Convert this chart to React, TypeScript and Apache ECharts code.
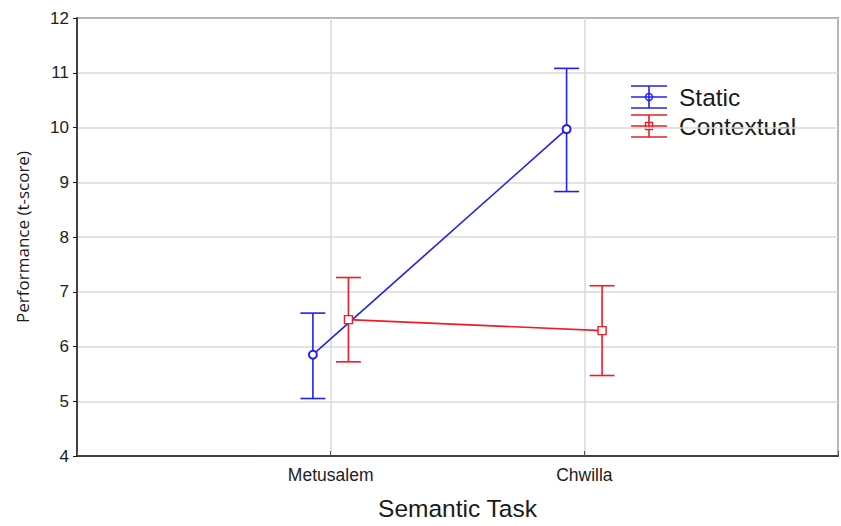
import React, { useEffect, useRef } from "react";
import * as echarts from "echarts";

const categories = ["Metusalem", "Chwilla"];
const seriesNames = ["Static", "Contextual"];
const staticMean = [5.85, 9.97];
const staticUpper = [6.61, 11.08];
const staticLower = [5.05, 8.83];
const contextualMean = [6.49, 6.29];
const contextualUpper = [7.26, 7.11];
const contextualLower = [5.72, 5.47];
const yTicks = [4, 5, 6, 7, 8, 9, 10, 11, 12];

const BLUE = "#2020ee";
const RED = "#ee1c25";
const OFFSET = 0.07;
const FONT = "Liberation Sans, Arial, sans-serif";

function errorSeries(name: string, color: string, off: number, lo: number[], hi: number[]) {
  const data = categories.map((_, i) => [i + 1 + off, lo[i], hi[i]]);
  return {
    type: "custom",
    name: name + " err",
    data,
    z: 3,
    silent: true,
    renderItem: (params: any, api: any) => {
      const x = api.value(0);
      const p1 = api.coord([x, api.value(1)]);
      const p2 = api.coord([x, api.value(2)]);
      const hw = 12.5;
      const style = { stroke: color, lineWidth: 1.6 };
      return {
        type: "group",
        children: [
          { type: "line", shape: { x1: p1[0], y1: p1[1], x2: p2[0], y2: p2[1] }, style },
          { type: "line", shape: { x1: p1[0] - hw, y1: p1[1], x2: p1[0] + hw, y2: p1[1] }, style },
          { type: "line", shape: { x1: p2[0] - hw, y1: p2[1], x2: p2[0] + hw, y2: p2[1] }, style },
        ],
      };
    },
  };
}

function legendItem(y: number, color: string, symbol: "circle" | "rect", label: string) {
  const x1 = 631, x2 = 667, xm = 649;
  const style = { stroke: color, lineWidth: 1.6 };
  const marker =
    symbol === "circle"
      ? { type: "circle", shape: { cx: xm, cy: y, r: 3.5 }, style: { stroke: color, fill: "none", lineWidth: 1.4 } }
      : { type: "rect", shape: { x: xm - 3.5, y: y - 3.5, width: 7, height: 7 }, style: { stroke: color, fill: "none", lineWidth: 1.4 } };
  return {
    type: "group",
    z: 10,
    children: [
      { type: "line", shape: { x1, y1: y - 11, x2, y2: y - 11 }, style },
      { type: "line", shape: { x1, y1: y, x2, y2: y }, style },
      { type: "line", shape: { x1, y1: y + 11, x2, y2: y + 11 }, style },
      { type: "line", shape: { x1: xm, y1: y - 11, x2: xm, y2: y + 11 }, style },
      marker,
      {
        type: "text",
        style: { x: 679, y, text: label, font: "24.5px " + FONT, fill: "#1a1a1a", verticalAlign: "middle" },
      },
    ],
  };
}

export default function App() {
  const ref = useRef<HTMLDivElement>(null);
  useEffect(() => {
    if (!ref.current) return;
    const chart = echarts.init(ref.current, null, { renderer: "svg" });
    chart.setOption({
      animation: false,
      backgroundColor: "#ffffff",
      grid: { left: 77, right: 0, top: 18, bottom: 65, show: true, borderColor: "#1a1a1a", borderWidth: 1.5 },
      xAxis: {
        type: "value",
        min: 0,
        max: 3,
        interval: 1,
        name: "Semantic Task",
        nameLocation: "middle",
        nameGap: 40,
        nameTextStyle: { fontFamily: FONT, fontSize: 24.5, color: "#1a1a1a" },
        axisLine: { show: true, lineStyle: { color: "#1a1a1a", width: 1.5 } },
        axisTick: { show: true, inside: true, length: 5, lineStyle: { color: "#555" } },
        axisLabel: {
          fontFamily: FONT,
          fontSize: 17.5,
          color: "#222",
          margin: 10,
          formatter: (v: number) => (v >= 1 && v <= categories.length ? categories[v - 1] : ""),
        },
        splitLine: { show: true, lineStyle: { color: "#d9d9d9", width: 1.5 } },
      },
      yAxis: {
        type: "value",
        min: yTicks[0],
        max: yTicks[yTicks.length - 1],
        interval: 1,
        name: "Performance (t-score)",
        nameLocation: "middle",
        nameGap: 46,
        nameRotate: 90,
        nameTextStyle: { fontFamily: "Open Sans, sans-serif", fontSize: 17, color: "#1a1a1a" },
        axisLine: { show: true, lineStyle: { color: "#1a1a1a", width: 1.5 } },
        axisTick: { show: true, length: 4, lineStyle: { color: "#1a1a1a" } },
        axisLabel: { fontFamily: FONT, fontSize: 17, color: "#222", margin: 8 },
        splitLine: { show: true, lineStyle: { color: "#d9d9d9", width: 1.5 } },
      },
      series: [
        errorSeries(seriesNames[0], BLUE, -OFFSET, staticLower, staticUpper),
        errorSeries(seriesNames[1], RED, OFFSET, contextualLower, contextualUpper),
        {
          type: "line",
          name: seriesNames[0],
          data: staticMean.map((v, i) => [i + 1 - OFFSET, v]),
          symbol: "emptyCircle",
          symbolSize: 8,
          lineStyle: { color: BLUE, width: 1.6 },
          itemStyle: { color: BLUE, borderWidth: 1.4 },
          z: 4,
        },
        {
          type: "line",
          name: seriesNames[1],
          data: contextualMean.map((v, i) => [i + 1 + OFFSET, v]),
          symbol: "rect",
          symbolSize: 8,
          lineStyle: { color: RED, width: 1.6 },
          itemStyle: { color: "#ffffff", borderColor: RED, borderWidth: 1.4 },
          z: 4,
        },
      ],
      graphic: [
        legendItem(97, BLUE, "circle", seriesNames[0]),
        legendItem(126, RED, "rect", seriesNames[1]),
      ],
    });
    return () => chart.dispose();
  }, []);
  return <div ref={ref} style={{ width: 841, height: 526, position: "absolute", left: 0, top: 0 }} />;
}
